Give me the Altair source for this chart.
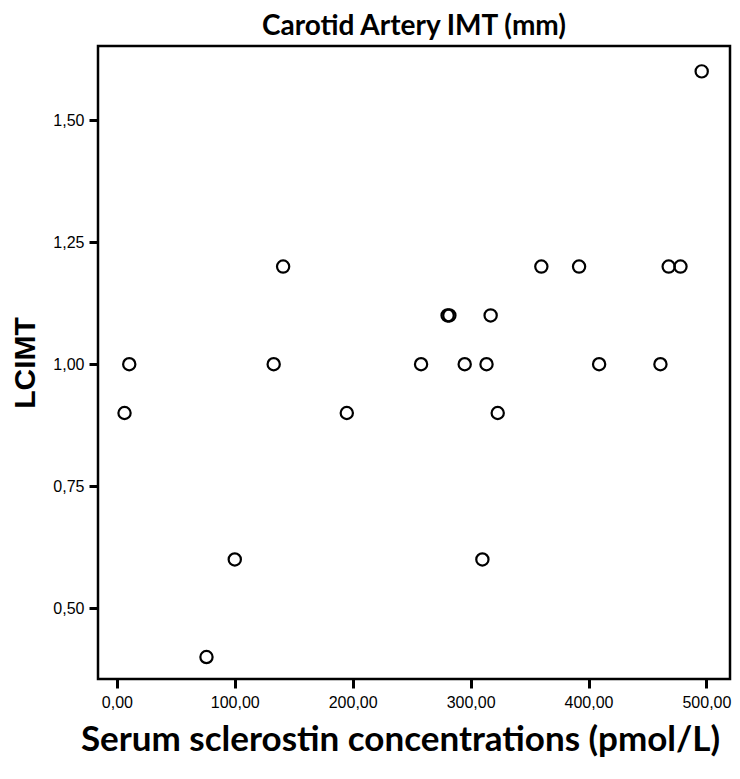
import altair as alt
import pandas as pd

# Values
sclerostin = [6.5, 10.5, 76, 100, 133, 141, 195, 258, 280.5, 282, 295, 310,
              313.5, 317, 323, 360, 392, 409, 461, 468, 478, 496]
lcimt = [0.90, 1.00, 0.40, 0.60, 1.00, 1.20, 0.90, 1.00, 1.10, 1.10, 1.00, 0.60,
         1.00, 1.10, 0.90, 1.20, 1.20, 1.00, 1.00, 1.20, 1.20, 1.60]

x_ticks = [0, 100, 200, 300, 400, 500]
y_ticks = [0.50, 0.75, 1.00, 1.25, 1.50]

df = pd.DataFrame({"Serum": sclerostin, "LCIMT": lcimt})

label_expr = "replace(format(datum.value, '.2f'), '.', ',')"

chart = alt.Chart(df).mark_point(
    shape="circle", filled=False, stroke="black", strokeWidth=2.2, size=150, opacity=1
).encode(
    x=alt.X("Serum:Q",
            scale=alt.Scale(domain=[-16, 520], nice=False, zero=False),
            axis=alt.Axis(values=x_ticks, labelExpr=label_expr,
                          title="Serum sclerostin concentrations (pmol/L)",
                          titleFont="Lato", titleFontSize=35, titleFontWeight="bold",
                          titlePadding=12, titleColor="black", titleX=302,
                          titleAnchor="middle",
                          labelFont="Liberation Sans", labelFontSize=16, labelColor="black",
                          labelPadding=6, tickSize=9, tickWidth=3, tickColor="black",
                          domain=False, grid=False)),
    y=alt.Y("LCIMT:Q",
            scale=alt.Scale(domain=[0.355, 1.652], nice=False, zero=False),
            axis=alt.Axis(values=y_ticks, labelExpr=label_expr,
                          title="LCIMT",
                          titleFont="Liberation Sans", titleFontSize=30, titleFontWeight="bold",
                          titlePadding=12, titleColor="black",
                          labelFont="Liberation Sans", labelFontSize=16, labelColor="black",
                          labelPadding=5, tickSize=9, tickWidth=3, tickColor="black",
                          domain=False, grid=False)),
).properties(
    width=632,
    height=633,
    title=alt.TitleParams("Carotid Artery IMT (mm)", font="Lato", fontSize=28,
                          fontWeight="bold", color="black", anchor="middle", offset=5),
    autosize=alt.AutoSizeParams(type="none"),
    padding={"left": 90, "top": 38, "right": 2, "bottom": 92},
).configure(
    background="white",
    view=alt.ViewConfig(stroke="black", strokeWidth=2.5),
)

chart.save("out.html", embed_options={"renderer": "svg", "actions": False})
